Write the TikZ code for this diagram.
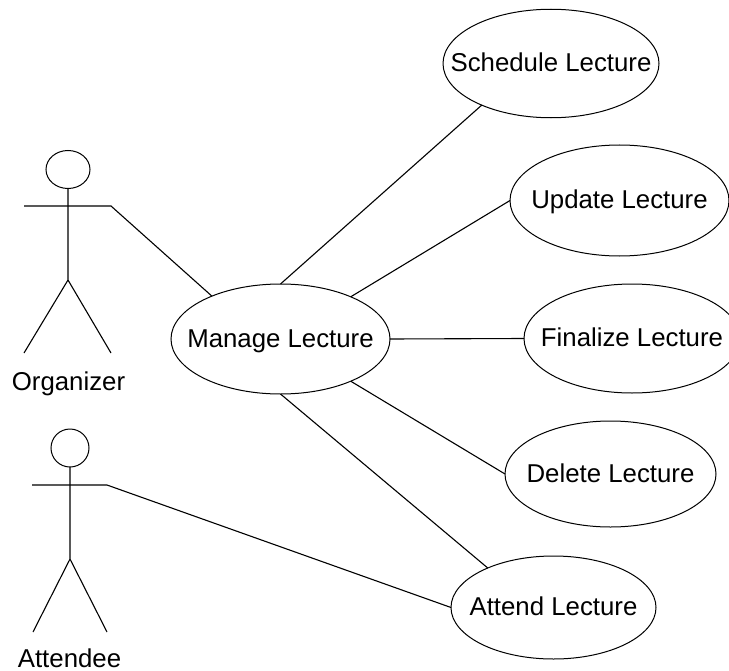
\documentclass[tikz,border=0pt]{standalone}
\usepackage{fontspec}
\setmainfont{Liberation Sans}
\usetikzlibrary{shapes.geometric}
\newcommand{\ztext}[1]{\makebox[0pt][c]{#1}}
\tikzset{
  usecase/.style={draw=black,ellipse,line width=1bp,inner sep=0pt,outer sep=0pt,text height=16.5bp,text depth=0pt,font=\fontsize{25.8bp}{30bp}\selectfont},
  lbl/.style={font=\fontsize{25.8bp}{30bp}\selectfont,inner sep=0pt,anchor=base},
  ln/.style={draw=black,line width=1.1bp,line join=miter},
  head/.style={draw=black,ellipse,line width=1bp,inner sep=0pt,outer sep=0pt}
}
\begin{document}
\begin{tikzpicture}[x=1bp,y=-1bp]
\useasboundingbox (0,0) rectangle (729,671);
\node[usecase,minimum width=216bp,minimum height=108.5bp] (sch) at (551,63.5) {\ztext{Schedule Lecture}};
\node[usecase,minimum width=219bp,minimum height=111bp] (upd) at (619.5,200.5) {\ztext{Update Lecture}};
\node[usecase,minimum width=216bp,minimum height=109bp] (fin) at (632,338.5) {\ztext{Finalize Lecture}};
\node[usecase,minimum width=211bp,minimum height=106bp] (del) at (610.5,474) {\ztext{Delete Lecture}};
\node[usecase,minimum width=205bp,minimum height=103bp] (att) at (553.5,607.5) {\ztext{Attend Lecture}};
\node[usecase,minimum width=219bp,minimum height=110bp] (man) at (280.5,339) {\ztext{Manage Lecture}};
% organizer
\node[head,minimum width=44bp,minimum height=38bp] (h1) at (68,169.5) {};
\coordinate (al1) at (24,206);
\coordinate (ar1) at (111,206);
\coordinate (c1) at (68,280);
\coordinate (fl1) at (24,353);
\coordinate (fr1) at (111,353);
\draw[ln] (h1.south) -- (c1) -- (fl1) (c1) -- (fr1);
\draw[ln] (al1) -- (ar1) -- (man.148.5);
\node[lbl] (org) at (68.5,390) {Organizer};
% attendee
\node[head,minimum width=38bp,minimum height=38bp] (h2) at (70,448) {};
\coordinate (al2) at (32,485);
\coordinate (ar2) at (107,485);
\coordinate (c2) at (70,559);
\coordinate (fl2) at (33,632);
\coordinate (fr2) at (107,632);
\draw[ln] (h2.south) -- (c2) -- (fl2) (c2) -- (fr2);
\draw[ln] (al2) -- (ar2) -- (att.west);
\node[lbl] (ate) at (69.5,667) {Attendee};
\draw[ln] (man.north) -- (sch.211.4);
\draw[ln] (man.31) -- (upd.west);
\draw[ln] (man.east) -- (fin.west);
\draw[ln] (man.329) -- (del.west);
\draw[ln] (man.south) -- (att.149);
\end{tikzpicture}
\end{document}
